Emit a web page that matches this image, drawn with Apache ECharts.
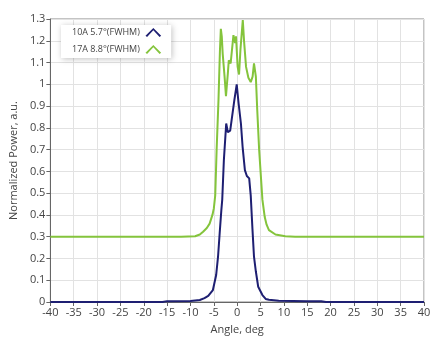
<!DOCTYPE html>
<html><head><meta charset="utf-8">
<script src="https://cdn.jsdelivr.net/npm/echarts@6/dist/echarts.min.js"></script>
<style>html,body{margin:0;padding:0;background:#fff}#c{width:445px;height:355px}</style>
</head><body><div id="c"></div>
<script>
var seriesNames = ['10A 5.7°(FWHM)', '17A 8.8°(FWHM)'];
var angles10 = [-40,-16,-15,-10,-8,-7,-6.2,-5.2,-4.5,-4.1,-3.75,-3.4,-3.2,-2.85,-2.35,-2.0,-1.5,-1.1,-0.6,-0.1,0.3,0.8,1.16,1.65,2.07,2.57,2.9,3.27,3.6,4.0,4.5,5.4,6.1,6.8,8.9,15,18,19,40];
var values10 = [0,0,0.004,0.005,0.009,0.018,0.028,0.055,0.124,0.208,0.316,0.42,0.47,0.652,0.82,0.78,0.787,0.78,0.928,1.0,0.913,0.82,0.713,0.606,0.579,0.568,0.49,0.335,0.208,0.14,0.07,0.032,0.014,0.01,0.006,0.004,0.003,0,0];
var angles17 = [-40,-12,-9,-8,-7.3,-6.5,-5.9,-5.3,-5.0,-4.7,-4.4,-4.0,-3.7,-3.5,-3.3,-3.1,-2.7,-2.4,-2.0,-1.8,-1.4,-0.8,-0.45,-0.25,0.1,0.4,0.7,1.2,1.5,1.9,2.4,2.9,3.3,3.6,4.0,4.3,4.7,5.4,5.9,6.3,6.8,8.2,10.3,12.4,40];
var values17 = [0.30,0.30,0.302,0.31,0.323,0.34,0.36,0.40,0.43,0.49,0.70,0.93,1.15,1.255,1.22,1.14,1.035,0.946,1.05,1.11,1.096,1.226,1.19,1.22,1.08,1.045,1.16,1.295,1.19,1.08,1.03,1.01,1.035,1.096,1.035,0.88,0.70,0.47,0.39,0.355,0.33,0.31,0.302,0.30,0.30];
var colors = ['#1e1f72', '#84c43c'];
function pairs(a, v){ return a.map(function(x,i){ return [x, v[i]]; }); }
var chev = 'path://M0,10 L10,0 L20,10 L18,11.5 L10,3 L2,11.5 Z';
var font = '"Open Sans", "Noto Sans", sans-serif';
var chart = echarts.init(document.getElementById('c'));
chart.setOption({
  animation: false,
  textStyle: {fontFamily: font},
  grid: {left: 45, right: 21, top: 19, bottom: 53, show: true, borderColor: '#888', borderWidth: 1},
  legend: {
    left: 61, top: 25, orient: 'vertical', align: 'right',
    backgroundColor: '#fff', shadowBlur: 6, shadowColor: 'rgba(0,0,0,0.25)', shadowOffsetX: 1, shadowOffsetY: 1,
    padding: [3, 10, 4, 11], itemGap: 8, itemWidth: 17, itemHeight: 9,
    textStyle: {fontSize: 9, color: '#444', fontFamily: font},
    data: [{name: seriesNames[0], icon: chev}, {name: seriesNames[1], icon: chev}]
  },
  xAxis: {
    type: 'value', min: -40, max: 40, interval: 5,
    name: 'Angle, deg', nameLocation: 'middle', nameGap: 22,
    nameTextStyle: {fontSize: 11, color: '#444'},
    axisLine: {onZero: false, lineStyle: {color: '#666'}},
    axisTick: {show: true, length: 4, lineStyle: {color: '#666'}},
    axisLabel: {fontSize: 11, color: '#444', margin: 5},
    splitLine: {lineStyle: {color: '#e2e2e2'}}
  },
  yAxis: {
    type: 'value', min: 0, max: 1.3, interval: 0.1,
    name: 'Normalized Power, a.u.', nameLocation: 'middle', nameGap: 29,
    nameTextStyle: {fontSize: 11, color: '#444'},
    axisLine: {show: true, onZero: false, lineStyle: {color: '#666'}},
    axisTick: {show: true, length: 4, lineStyle: {color: '#666'}},
    axisLabel: {fontSize: 11, color: '#444', margin: 5},
    splitLine: {lineStyle: {color: '#e2e2e2'}}
  },
  series: [
    {name: seriesNames[0], type: 'line', data: pairs(angles10, values10), showSymbol: false, color: colors[0], lineStyle: {width: 2, color: colors[0]}, z: 3},
    {name: seriesNames[1], type: 'line', data: pairs(angles17, values17), showSymbol: false, color: colors[1], lineStyle: {width: 2, color: colors[1]}, z: 2}
  ]
});
</script></body></html>
